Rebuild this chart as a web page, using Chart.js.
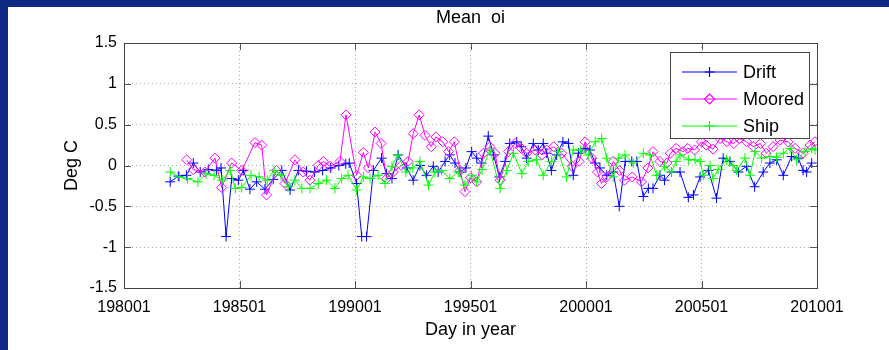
<!DOCTYPE html>
<html>
<head>
<meta charset="utf-8">
<title>Mean oi</title>
<script src="https://cdn.jsdelivr.net/npm/chart.js@4/dist/chart.umd.min.js"></script>
<style>
  html, body { margin: 0; padding: 0; background: #0e2a84; width: 889px; height: 350px; overflow: hidden; }
  #wrap { position: absolute; left: 8px; top: 7px; width: 881px; height: 343px; background: #fff; }
  canvas { display: block; }
</style>
</head>
<body>
<div id="wrap"><canvas id="myChart" width="881" height="343"></canvas></div>
<script>
// decimal years and mean values (deg C)
const driftYears = [
  1982.0, 1982.35, 1982.7, 1983.0, 1983.3, 1983.65, 1984.0, 1984.2, 1984.42, 1984.66,
  1984.95, 1985.17, 1985.45, 1985.74, 1986.1, 1986.46, 1986.83, 1987.19, 1987.55, 1987.9,
  1988.25, 1988.6, 1988.95, 1989.3, 1989.6, 1989.75, 1990.07, 1990.29, 1990.5, 1990.8,
  1991.15, 1991.36, 1991.6, 1991.87, 1992.24, 1992.52, 1992.81, 1993.1, 1993.39, 1993.6,
  1993.9, 1994.1, 1994.33, 1994.55, 1994.8, 1995.05, 1995.27, 1995.48, 1995.77, 1996.0,
  1996.25, 1996.5, 1996.7, 1997.0, 1997.2, 1997.43, 1997.72, 1997.94, 1998.15, 1998.3,
  1998.5, 1998.73, 1999.0, 1999.24, 1999.45, 1999.67, 1999.96, 2000.17, 2000.4, 2000.6,
  2000.9, 2001.18, 2001.44, 2001.7, 2001.98, 2002.2, 2002.48, 2002.7, 2002.9, 2003.2,
  2003.4, 2003.7, 2004.07, 2004.43, 2004.65, 2004.94, 2005.3, 2005.65, 2005.94, 2006.23,
  2006.6, 2006.95, 2007.3, 2007.67, 2007.96, 2008.25, 2008.54, 2008.9, 2009.19, 2009.4,
  2009.55, 2009.77
];
const driftVals = [
  -0.20, -0.13, -0.12, 0.03, -0.08, -0.05, -0.06, -0.03, -0.87, -0.16,
  -0.18, -0.06, -0.29, -0.20, -0.29, -0.17, -0.06, -0.30, -0.06, -0.07,
  -0.08, -0.06, -0.03, 0.00, 0.02, 0.03, -0.22, -0.87, -0.87, -0.06,
  0.09, -0.10, -0.16, 0.13, -0.03, -0.18, 0.00, -0.12, -0.01, -0.08,
  0.05, 0.13, 0.03, -0.08, -0.03, 0.17, 0.09, 0.03, 0.36, 0.13,
  -0.14, 0.05, 0.27, 0.29, 0.23, 0.09, 0.27, 0.19, 0.27, 0.15,
  -0.06, 0.13, 0.29, 0.27, -0.12, 0.15, 0.21, 0.19, 0.03, -0.03,
  -0.12, -0.08, -0.50, 0.05, 0.05, 0.05, -0.38, -0.28, -0.28, -0.12,
  -0.18, -0.08, -0.08, -0.39, -0.36, -0.14, -0.06, -0.40, 0.09, 0.05,
  -0.08, -0.01, -0.26, -0.08, 0.03, 0.07, -0.12, 0.11, 0.09, -0.06,
  -0.08, 0.03
];

const mooredYears = [
  1982.71, 1983.0, 1983.5, 1983.94, 1984.23, 1984.66, 1985.1, 1985.67, 1985.96, 1986.17,
  1986.6, 1986.97, 1987.4, 1987.76, 1988.05, 1988.41, 1988.63, 1988.92, 1989.35, 1989.61,
  1990.07, 1990.36, 1990.58, 1990.87, 1991.13, 1991.37, 1991.66, 1992.0, 1992.3, 1992.52,
  1992.78, 1993.03, 1993.3, 1993.5, 1993.8, 1994.05, 1994.3, 1994.55, 1994.76, 1995.0,
  1995.27, 1995.56, 1995.84, 1996.06, 1996.28, 1996.64, 1996.93, 1997.2, 1997.43, 1997.8,
  1998.1, 1998.3, 1998.6, 1998.95, 1999.4, 1999.7, 1999.96, 2000.25, 2000.5, 2000.67,
  2000.9, 2001.18, 2001.45, 2001.67, 2002.0, 2002.4, 2002.68, 2002.9, 2003.2, 2003.5,
  2003.65, 2003.9, 2004.2, 2004.4, 2004.7, 2005.0, 2005.2, 2005.5, 2005.8, 2006.1,
  2006.4, 2006.65, 2006.95, 2007.25, 2007.55, 2007.8, 2008.1, 2008.4, 2008.75, 2009.05,
  2009.4, 2009.7, 2009.9
];
const mooredVals = [
  0.07, -0.05, -0.08, 0.09, -0.27, 0.03, -0.06, 0.28, 0.25, -0.36,
  -0.06, -0.22, 0.07, -0.08, -0.18, 0.00, 0.05, -0.01, 0.05, 0.62,
  -0.12, 0.16, -0.03, 0.41, 0.27, -0.16, -0.08, 0.00, 0.05, 0.39,
  0.62, 0.37, 0.23, 0.35, 0.29, 0.17, 0.29, -0.06, -0.32, -0.15,
  -0.20, 0.15, 0.23, 0.15, -0.18, 0.17, 0.27, 0.21, 0.15, 0.19,
  0.13, 0.19, 0.23, 0.15, -0.01, 0.05, 0.29, 0.09, -0.08, -0.22,
  -0.14, 0.05, -0.06, -0.18, -0.14, -0.20, -0.03, 0.17, 0.05, 0.03,
  0.15, 0.21, 0.17, 0.21, 0.19, 0.29, 0.25, 0.20, 0.33, 0.29,
  0.27, 0.33, 0.29, 0.23, 0.27, 0.15, 0.23, 0.31, 0.29, 0.21,
  0.15, 0.25, 0.29
];

const shipYears = [
  1982.0, 1982.4, 1982.75, 1983.2, 1983.55, 1983.9, 1984.25, 1984.6, 1984.82, 1985.1,
  1985.5, 1985.85, 1986.2, 1986.5, 1986.8, 1987.1, 1987.4, 1987.7, 1988.05, 1988.41,
  1988.77, 1989.13, 1989.42, 1989.7, 1990.07, 1990.36, 1990.65, 1991.0, 1991.3, 1991.6,
  1991.85, 1992.2, 1992.5, 1992.81, 1993.18, 1993.46, 1993.75, 1994.1, 1994.47, 1994.76,
  1995.05, 1995.27, 1995.5, 1995.84, 1996.28, 1996.57, 1996.86, 1997.22, 1997.5, 1997.86,
  1998.15, 1998.5, 1998.8, 1999.16, 1999.45, 1999.75, 2000.1, 2000.4, 2000.68, 2000.9,
  2001.18, 2001.4, 2001.69, 2002.05, 2002.48, 2002.77, 2003.06, 2003.4, 2003.7, 2003.9,
  2004.07, 2004.43, 2004.72, 2004.94, 2005.08, 2005.37, 2005.5, 2005.72, 2006.08, 2006.37,
  2006.52, 2006.88, 2007.1, 2007.32, 2007.6, 2007.96, 2008.25, 2008.54, 2008.83, 2009.12,
  2009.48, 2009.77, 2009.92
];
const shipVals = [
  -0.08, -0.14, -0.16, -0.20, -0.10, -0.12, -0.18, -0.06, -0.28, -0.27,
  -0.12, -0.14, -0.18, -0.06, -0.12, -0.26, -0.18, -0.28, -0.28, -0.22,
  -0.18, -0.28, -0.16, -0.12, -0.30, -0.14, -0.16, -0.12, -0.22, -0.01,
  0.13, -0.08, -0.03, 0.05, -0.24, -0.08, -0.06, -0.16, -0.08, -0.24,
  -0.12, -0.20, -0.05, 0.19, -0.28, -0.06, 0.15, -0.10, 0.05, 0.07,
  -0.12, 0.05, 0.17, -0.14, 0.19, 0.19, 0.13, 0.29, 0.33, 0.09,
  -0.14, 0.09, 0.13, 0.03, 0.15, 0.13, -0.12, -0.01, -0.08, 0.05,
  0.13, 0.07, 0.07, 0.05, -0.12, 0.00, -0.16, -0.05, 0.07, 0.00,
  -0.06, 0.09, -0.12, 0.17, 0.09, 0.11, 0.10, 0.15, 0.21, 0.07,
  0.17, 0.21, 0.19
];

const xTicks = [1980, 1985, 1990, 1995, 2000, 2005, 2010];
const yTicks = [-1.5, -1, -0.5, 0, 0.5, 1, 1.5];

const FONT = '"Liberation Sans", Arial, Helvetica, sans-serif';

function pairs(xs, ys) {
  return xs.map(function (x, i) { return { x: x, y: ys[i] }; });
}

const series = [
  { label: 'Drift',  color: 'rgb(0,0,255)',   style: 'cross',   radius: 5, order: 3, data: pairs(driftYears, driftVals) },
  { label: 'Moored', color: 'rgb(255,0,255)', style: 'rectRot', radius: 5, order: 2, data: pairs(mooredYears, mooredVals) },
  { label: 'Ship',   color: 'rgb(0,255,0)',   style: 'cross',   radius: 5, order: 1, data: pairs(shipYears, shipVals) }
];

// small marker for the legend rows: plus sign or open diamond
function legendMarker(ctx, style, r, x, y) {
  ctx.beginPath();
  if (style === 'rectRot') {
    ctx.moveTo(x - r, y);
    ctx.lineTo(x, y - r);
    ctx.lineTo(x + r, y);
    ctx.lineTo(x, y + r);
    ctx.closePath();
  } else {
    ctx.moveTo(x - r, y);
    ctx.lineTo(x + r, y);
    ctx.moveTo(x, y - r);
    ctx.lineTo(x, y + r);
  }
  ctx.stroke();
}

// title, box frame with inward ticks, and the legend box
const decorations = {
  id: 'decorations',
  afterDraw: function (chart) {
    const ctx = chart.ctx;
    const a = chart.chartArea;
    const xs = chart.scales.x, ys = chart.scales.y;
    ctx.save();
    ctx.setLineDash([]);

    ctx.strokeStyle = '#555';
    ctx.lineWidth = 1;
    ctx.beginPath();
    xTicks.forEach(function (t) {
      const px = Math.round(xs.getPixelForValue(t)) + 0.5;
      ctx.moveTo(px, a.bottom); ctx.lineTo(px, a.bottom - 7);
      ctx.moveTo(px, a.top); ctx.lineTo(px, a.top + 7);
    });
    yTicks.forEach(function (t) {
      const py = Math.round(ys.getPixelForValue(t)) + 0.5;
      ctx.moveTo(a.left, py); ctx.lineTo(a.left + 7, py);
      ctx.moveTo(a.right, py); ctx.lineTo(a.right - 7, py);
    });
    ctx.stroke();
    ctx.strokeStyle = '#444';
    ctx.strokeRect(Math.round(a.left) + 0.5, Math.round(a.top) + 0.5,
                   Math.round(a.right - a.left), Math.round(a.bottom - a.top));

    // title
    ctx.fillStyle = '#000';
    ctx.font = '18px ' + FONT;
    ctx.textAlign = 'center';
    ctx.textBaseline = 'middle';
    ctx.fillText('Mean  oi', (a.left + a.right) / 2, 11);

    // legend
    const lx = 662, ly = 45, lw = 139, lh = 86;
    ctx.fillStyle = '#fff';
    ctx.fillRect(lx, ly, lw, lh);
    ctx.strokeStyle = '#444';
    ctx.strokeRect(lx + 0.5, ly + 0.5, lw, lh);
    ctx.font = '18px ' + FONT;
    ctx.textAlign = 'left';
    for (let i = 0; i < series.length; i++) {
      const s = series[i];
      const cy = 65 + i * 27;
      ctx.save();
      ctx.strokeStyle = s.color;
      ctx.lineWidth = 1.2;
      ctx.beginPath();
      ctx.moveTo(674, cy);
      ctx.lineTo(729, cy);
      ctx.stroke();
      legendMarker(ctx, s.style, s.radius, 701.5, cy);
      ctx.restore();
      ctx.fillStyle = '#000';
      ctx.fillText(s.label, 735, cy + 1);
    }
    ctx.restore();
  }
};

const data = {
  datasets: series.map(function (s) {
    return {
      label: s.label,
      data: s.data,
      order: s.order,
      borderColor: s.color,
      borderWidth: 1,
      backgroundColor: 'rgba(0,0,0,0)',
      pointStyle: s.style,
      pointRadius: s.radius,
      pointBorderWidth: 1,
      pointBorderColor: s.color,
      pointBackgroundColor: 'rgba(0,0,0,0)',
      tension: 0,
      fill: false
    };
  })
};

const config = {
  type: 'line',
  data: data,
  options: {
    responsive: false,
    animation: false,
    devicePixelRatio: 1,
    layout: { padding: { left: 0, right: 72, top: 36, bottom: 0 } },
    plugins: {
      legend: { display: false },
      tooltip: { enabled: false },
      title: { display: false }
    },
    scales: {
      x: {
        type: 'linear',
        min: 1980,
        max: 2010,
        afterFit: function (scale) { scale.height = 62; },
        ticks: {
          stepSize: 5,
          padding: 10,
          color: '#000',
          maxRotation: 0,
          font: { family: FONT, size: 16 },
          callback: function (v) { return v + '01'; }
        },
        grid: { color: '#aaa', lineWidth: 1, drawTicks: false },
        border: { display: false, dash: [1, 3] },
        title: {
          display: true,
          text: 'Day in year',
          color: '#000',
          font: { family: FONT, size: 18 },
          padding: { top: 0, bottom: 9 }
        }
      },
      y: {
        min: -1.5,
        max: 1.5,
        afterFit: function (scale) { scale.width = 116; },
        ticks: {
          stepSize: 0.5,
          padding: 7,
          color: '#000',
          font: { family: FONT, size: 16 },
          callback: function (v) { return String(v); }
        },
        grid: { color: '#aaa', lineWidth: 1, drawTicks: false },
        border: { display: false, dash: [1, 3] },
        title: {
          display: true,
          text: 'Deg C',
          color: '#000',
          font: { family: FONT, size: 18 },
          padding: { top: 53, bottom: 0 }
        }
      }
    }
  },
  plugins: [decorations]
};

const myChart = new Chart(document.getElementById('myChart'), config);
</script>
</body>
</html>
